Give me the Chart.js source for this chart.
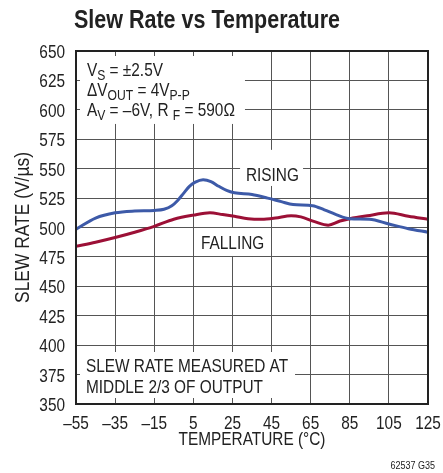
<!DOCTYPE html>
<html>
<head>
<meta charset="utf-8">
<title>Slew Rate vs Temperature</title>
<script src="https://cdn.jsdelivr.net/npm/chart.js@4/dist/chart.umd.min.js"></script>
<style>
  html, body { margin: 0; padding: 0; background: #fff; }
  #chart { display: block; }
</style>
</head>
<body>
<canvas id="chart" width="443" height="473"></canvas>
<script>
// Temperature (°C) sample points and slew rate (V/µs) for each edge
const risingTemps = [-55, -45, -35, -25, -15, -10, -6, -3, 0, 3, 6, 10, 14, 18, 22, 26, 35, 43, 50, 56, 66, 72, 78, 85, 95, 105, 115, 125];
const risingRate  = [498.5, 508, 512.5, 514, 514.5, 515.5, 518.5, 523, 529, 535, 538.5, 540.5, 539, 535, 531.5, 529.5, 528, 525, 522, 519.5, 518.5, 515, 511, 507.5, 507, 503, 499, 496];

const fallingTemps = [-55, -45, -35, -25, -15, -5, 5, 13.5, 20, 26, 33, 40, 47, 55, 60, 67, 74, 80, 85, 94, 105, 115, 125];
const fallingRate  = [484, 487.5, 491.5, 496, 501, 507, 510.5, 512.5, 511, 509.5, 507.5, 507, 508, 510, 509, 505, 502, 505.5, 507.5, 510, 512.5, 509.5, 507];

// Axis ranges and tick spacing
const tempRange = [-55, 125];
const tempStep = 20;
const rateRange = [350, 650];
const rateStep = 25;

const FONT = "'Liberation Sans', Arial, sans-serif";
const INK = '#222';
const NARROW = 0.81;   // horizontal squeeze for the condensed lettering

const toPoints = (xs, ys) => xs.map((x, i) => ({ x, y: ys[i] }));

// Condensed text: plain font squeezed horizontally around its anchor
function text(ctx, str, x, y, opts = {}) {
    const { size = 19, bold = false, align = 'left', sx = NARROW } = opts;
    ctx.save();
    ctx.translate(x, y);
    ctx.scale(sx, 1);
    ctx.font = `${bold ? 'bold ' : ''}${size}px ${FONT}`;
    ctx.textAlign = align;
    ctx.textBaseline = 'alphabetic';
    ctx.fillText(str, 0, 0);
    ctx.restore();
}

// A line of text where some runs are subscripts
function drawRuns(ctx, runs, x, y, size = 19) {
    ctx.save();
    ctx.translate(x, y);
    ctx.scale(NARROW, 1);
    ctx.textAlign = 'left';
    ctx.textBaseline = 'alphabetic';
    let cx = 0;
    runs.forEach(r => {
        const s = r.sub ? Math.round(size * 0.8) : size;
        ctx.font = `${s}px ${FONT}`;
        ctx.fillText(r.t, cx, r.sub ? 4 : 0);
        cx += ctx.measureText(r.t).width;
    });
    ctx.restore();
}

const fmtTemp = v => (v < 0 ? '–' + Math.abs(v) : String(v));

const notesPlugin = {
    id: 'notes',
    beforeDatasetsDraw(chart) {
        const { ctx, chartArea: area, scales } = chart;
        const px = v => scales.x.getPixelForValue(v);
        const py = v => scales.y.getPixelForValue(v);

        ctx.save();
        // blank out the grid behind the labels
        ctx.fillStyle = '#fff';
        ctx.fillRect(area.left + 4, area.top + 5, px(31.4) - area.left - 4, py(588) - area.top - 5);
        ctx.fillRect(px(28.9), py(566), px(61.1) - px(28.9), py(535.3) - py(566));
        ctx.fillRect(px(5.9), py(499.6), px(44.2) - px(5.9), py(475.8) - py(499.6));
        ctx.fillRect(area.left + 4, py(394.2), px(57) - area.left - 4, area.bottom - 6 - py(394.2));

        ctx.fillStyle = INK;
        drawRuns(ctx, [{ t: 'V' }, { t: 'S', sub: true }, { t: ' = ±2.5V' }], px(-49.4), py(628.8));
        drawRuns(ctx, [{ t: 'ΔV' }, { t: 'OUT', sub: true }, { t: ' = 4V' }, { t: 'P-P', sub: true }], px(-49.4), py(611.8));
        drawRuns(ctx, [{ t: 'A' }, { t: 'V', sub: true }, { t: ' = –6V, R ' }, { t: 'F', sub: true }, { t: ' = 590Ω' }], px(-49.4), py(594.8));

        text(ctx, 'RISING', px(31.9), py(539.5));
        text(ctx, 'FALLING', px(8.9), py(481.7));
        text(ctx, 'SLEW RATE MEASURED AT', px(-49.9), py(377.2));
        text(ctx, 'MIDDLE 2/3 OF OUTPUT', px(-49.9), py(359.3));
        ctx.restore();
    },
    afterDraw(chart) {
        const { ctx, chartArea: area, scales } = chart;
        ctx.save();
        // plot frame
        ctx.strokeStyle = INK;
        ctx.lineWidth = 2;
        ctx.strokeRect(area.left, area.top, area.right - area.left, area.bottom - area.top);

        ctx.fillStyle = INK;
        // tick labels, placed from the library's scales
        scales.x.ticks.forEach(t => {
            text(ctx, fmtTemp(t.value), scales.x.getPixelForValue(t.value), area.bottom + 25, { align: 'center' });
        });
        scales.y.ticks.forEach(t => {
            text(ctx, String(t.value), area.left - 11, scales.y.getPixelForValue(t.value) + 7, { align: 'right' });
        });

        text(ctx, 'Slew Rate vs Temperature', 74, 28, { size: 25, bold: true, sx: 0.86 });
        text(ctx, 'TEMPERATURE (°C)', (area.left + area.right) / 2, 445, { align: 'center' });

        ctx.save();
        ctx.translate(29, (area.top + area.bottom) / 2);
        ctx.rotate(-Math.PI / 2);
        text(ctx, 'SLEW RATE (V/µs)', 0, 0, { size: 20, align: 'center', sx: 0.87 });
        ctx.restore();

        text(ctx, '62537 G35', 435, 469, { size: 10, align: 'right', sx: 0.9 });
        ctx.restore();
    }
};

const canvas = document.getElementById('chart');
new Chart(canvas.getContext('2d'), {
    type: 'line',
    data: {
        datasets: [
            {
                label: 'RISING',
                data: toPoints(risingTemps, risingRate),
                borderColor: '#3d5aa8',
                borderWidth: 3,
                pointRadius: 0,
                cubicInterpolationMode: 'monotone'
            },
            {
                label: 'FALLING',
                data: toPoints(fallingTemps, fallingRate),
                borderColor: '#9c1036',
                borderWidth: 3,
                pointRadius: 0,
                cubicInterpolationMode: 'monotone'
            }
        ]
    },
    options: {
        responsive: false,
        animation: false,
        layout: { padding: { top: 51, right: 15, left: 0, bottom: 0 } },
        plugins: {
            legend: { display: false },
            title: { display: false },
            tooltip: { enabled: false }
        },
        scales: {
            x: {
                type: 'linear',
                min: tempRange[0],
                max: tempRange[1],
                afterFit: scale => { scale.height = 69; },
                ticks: { stepSize: tempStep, display: false, autoSkip: false },
                grid: { color: '#555', lineWidth: 1, drawTicks: false },
                border: { display: false }
            },
            y: {
                type: 'linear',
                min: rateRange[0],
                max: rateRange[1],
                afterFit: scale => { scale.width = 76; },
                ticks: { stepSize: rateStep, display: false, autoSkip: false },
                grid: { color: '#555', lineWidth: 1, drawTicks: false },
                border: { display: false }
            }
        }
    },
    plugins: [notesPlugin]
});
</script>
</body>
</html>
